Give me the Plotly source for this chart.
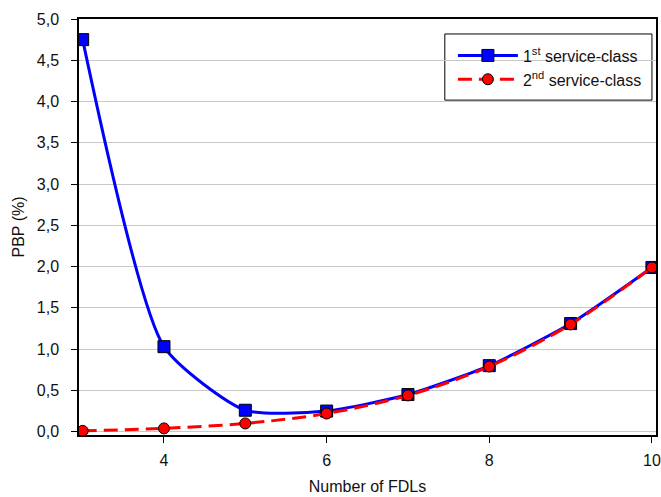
import plotly.graph_objects as go

# Number of FDLs
fdls = [3, 4, 5, 6, 7, 8, 9, 10]
# PBP (%) for each service class
pbp_class1 = [4.75, 1.03, 0.26, 0.25, 0.45, 0.80, 1.31, 1.99]
pbp_class2 = [0.01, 0.04, 0.10, 0.22, 0.44, 0.79, 1.30, 1.99]

x_ticks = [4, 6, 8, 10]
y_ticks = [0.0, 0.5, 1.0, 1.5, 2.0, 2.5, 3.0, 3.5, 4.0, 4.5, 5.0]

FONT = "Liberation Sans, Arial, sans-serif"

fig = go.Figure()
fig.add_trace(go.Scatter(
    x=fdls, y=pbp_class1, name="1<sup>st</sup> service-class",
    mode="lines+markers",
    line=dict(color="#0000ff", width=3, shape="spline", smoothing=0.6),
    marker=dict(symbol="square", size=12, color="#0000ff",
                line=dict(color="#000000", width=1)),
))
fig.add_trace(go.Scatter(
    x=fdls, y=pbp_class2, name="2<sup>nd</sup> service-class",
    mode="lines+markers",
    line=dict(color="#ff0000", width=3, shape="spline", smoothing=0.9,
              dash="14px,7px"),
    marker=dict(symbol="circle", size=11, color="#ff0000",
                line=dict(color="#000000", width=1)),
))

# Legend frame (white box with thin black border, covering gridlines)
fig.add_shape(
    type="rect", xref="paper", yref="paper",
    x0=0.634, x1=0.993, y0=0.805, y1=0.964,
    line=dict(color="#000000", width=1), fillcolor="white", layer="between",
)

fig.update_layout(
    width=661, height=497,
    margin=dict(l=79, r=5, t=19, b=62),
    paper_bgcolor="white", plot_bgcolor="white",
    separators=",.",
    font=dict(family=FONT, size=15, color="#111111"),
    showlegend=True,
    legend=dict(
        x=0.648, y=0.953, xanchor="left", yanchor="top",
        bgcolor="rgba(0,0,0,0)", borderwidth=0,
        font=dict(family=FONT, size=16, color="#111111"),
        itemwidth=60, tracegroupgap=0,
    ),
    xaxis=dict(
        range=[2.955, 10.05], tickvals=x_ticks, ticktext=[str(v) for v in x_ticks],
        showgrid=False, zeroline=False, automargin=False,
        ticklabeloverflow="allow", ticklabelstandoff=4,
        showline=True, linecolor="#000000", linewidth=1.5, mirror=True,
        ticks="outside", ticklen=6, tickcolor="#000000",
        tickfont=dict(family=FONT, size=16),
        title=dict(text="Number of FDLs", standoff=13,
                   font=dict(family=FONT, size=16)),
    ),
    yaxis=dict(
        range=[-0.04, 5.0], tickvals=y_ticks, tickformat=".1f",
        showgrid=True, gridcolor="#c8c8c8", gridwidth=1, zeroline=False,
        automargin=False, ticklabelstandoff=9,
        showline=True, linecolor="#000000", linewidth=1.5, mirror=True,
        ticks="outside", ticklen=6, tickcolor="#000000",
        tickfont=dict(family=FONT, size=16),
        title=dict(text="PBP (%)", standoff=8,
                   font=dict(family=FONT, size=16)),
    ),
)

fig.write_html("out.html")
